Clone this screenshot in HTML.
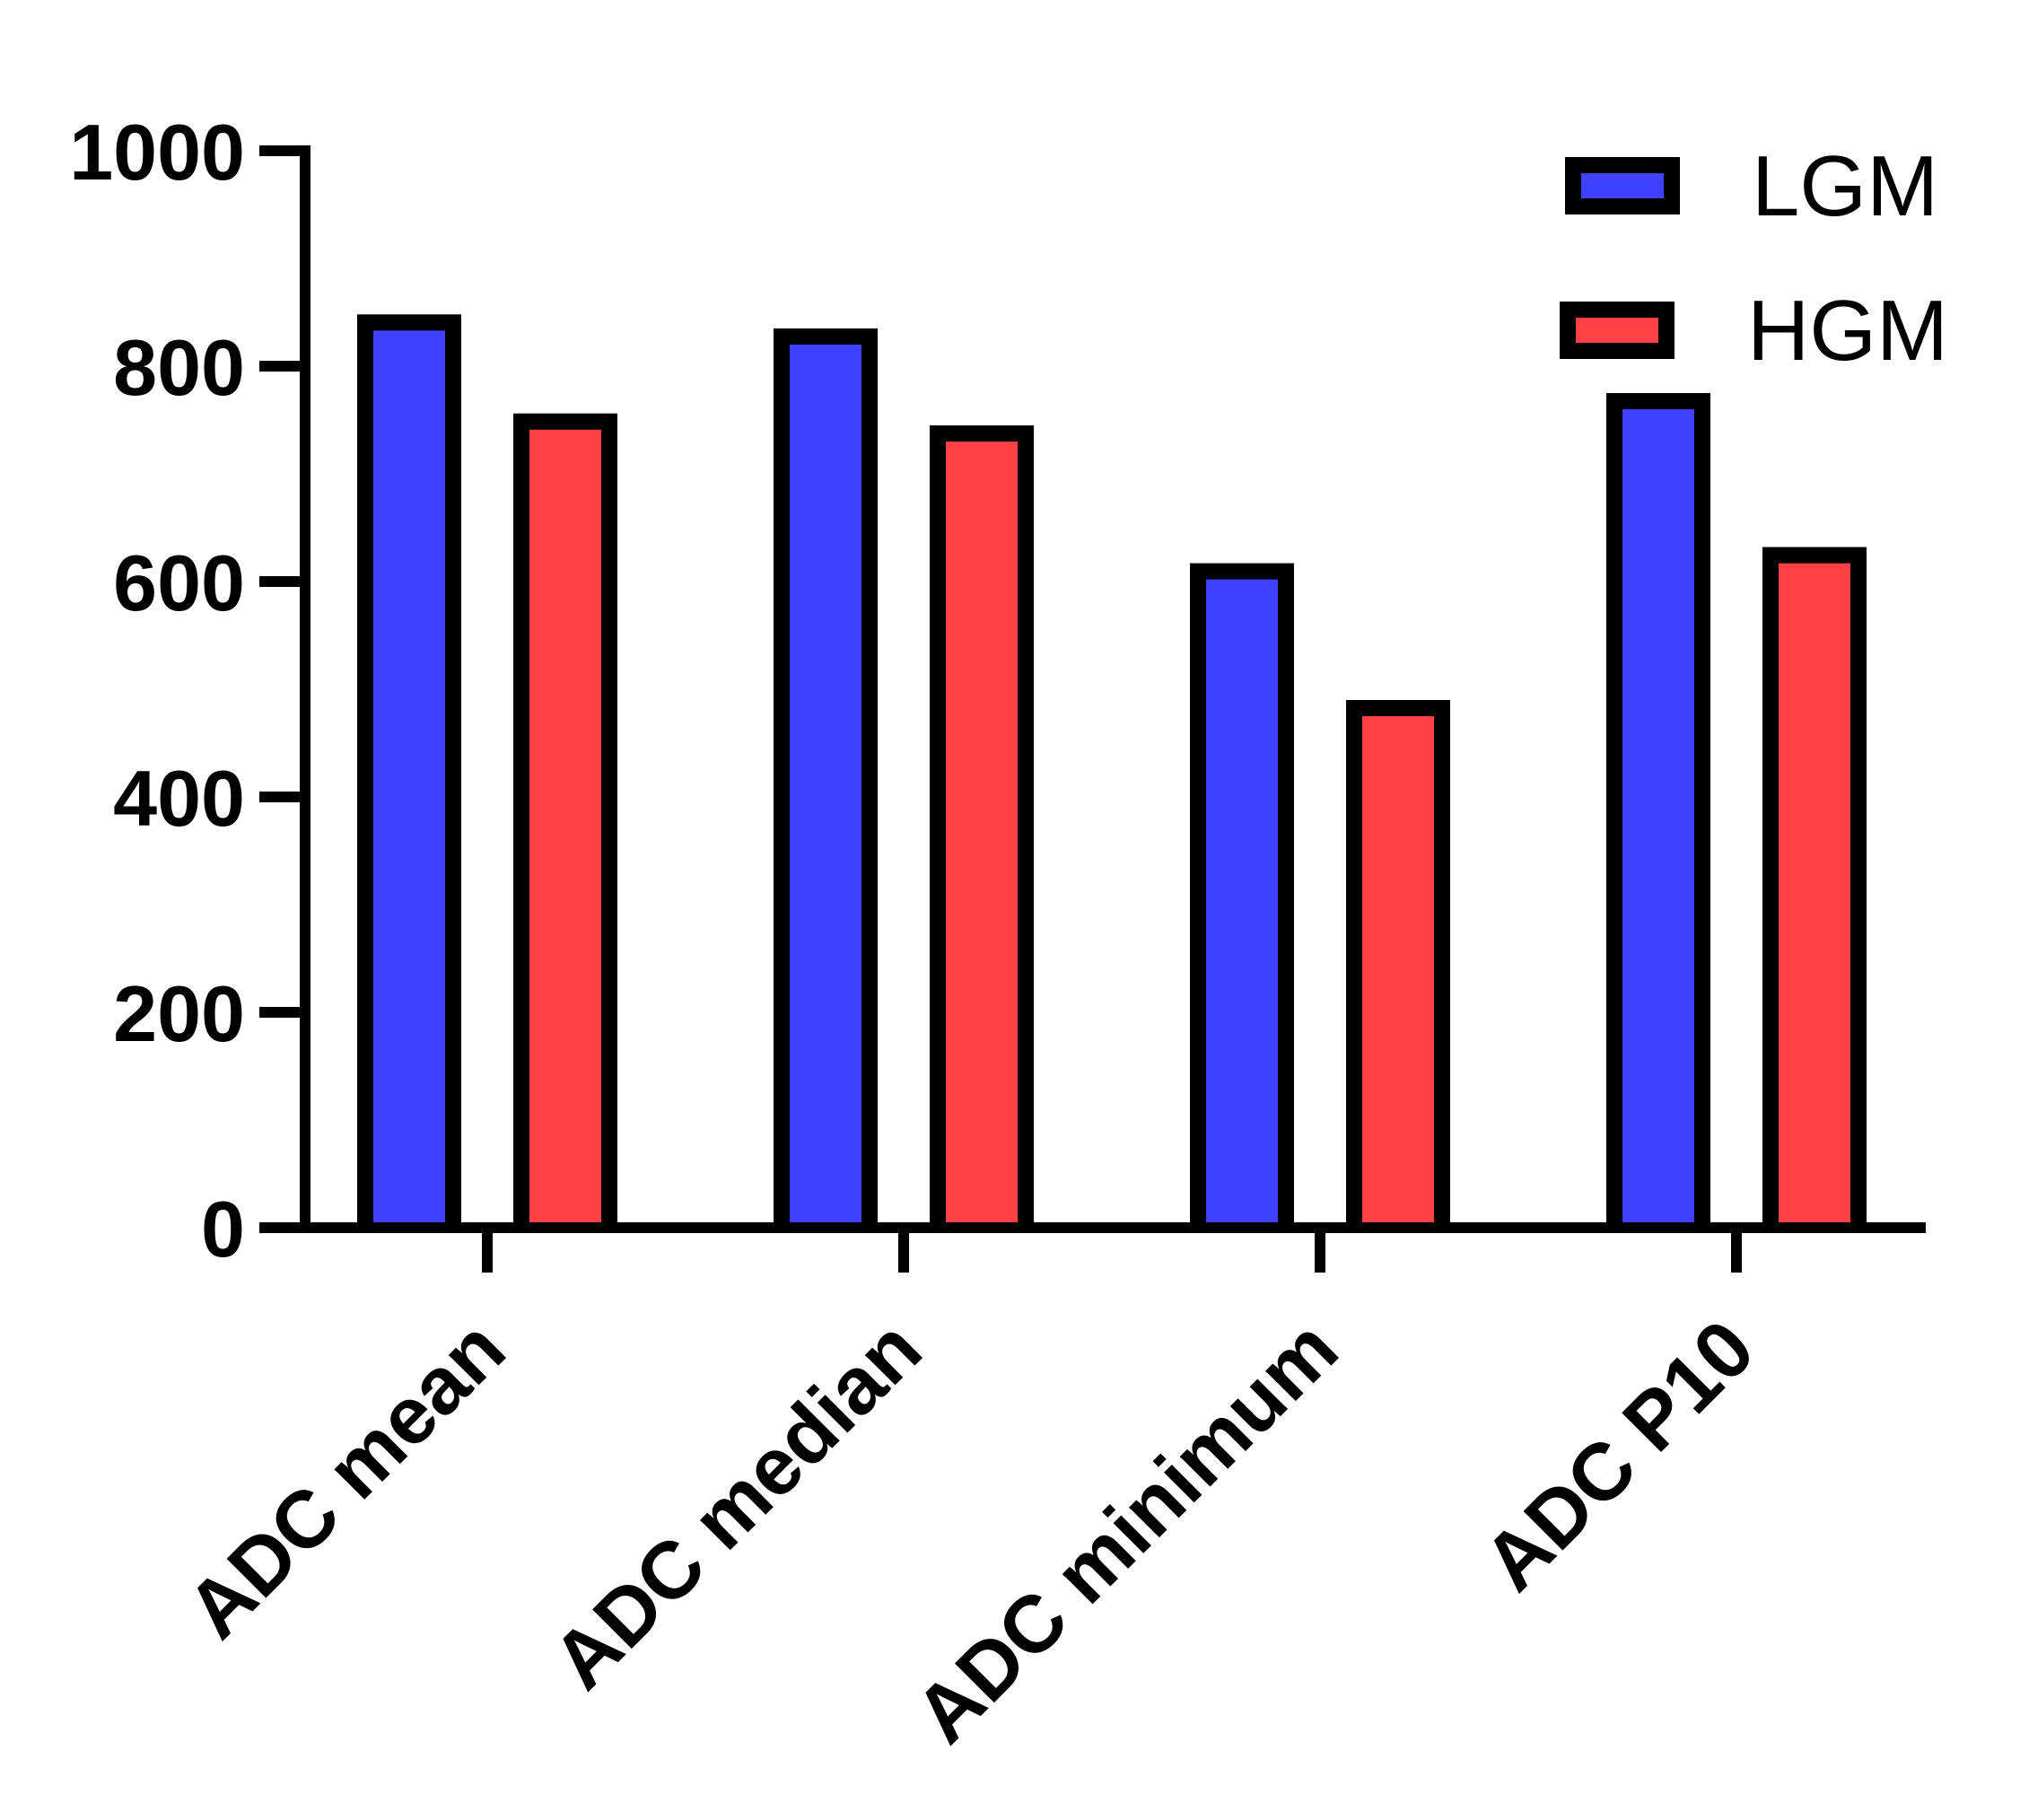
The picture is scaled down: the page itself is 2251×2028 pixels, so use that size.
<!DOCTYPE html>
<html><head><meta charset="utf-8"><style>
html,body{margin:0;padding:0;background:#fff}
svg{display:block}
text{font-family:"Liberation Sans",Arial,sans-serif}
</style></head><body>
<svg width="2251" height="2028" viewBox="0 0 2251 2028" id="chart"></svg>
<script>
const categories = ["ADC mean","ADC median","ADC minimum","ADC P10"];
const lgmValues = [848, 835, 617, 775];
const hgmValues = [756, 745, 490, 632];
const yTicks = [0, 200, 400, 600, 800, 1000];
const seriesNames = ["LGM", "HGM"];

const NS = "http://www.w3.org/2000/svg";
const svg = document.getElementById('chart');
const y0 = 1368, yPerUnit = 1.2;
function yScale(v){ return y0 - v*yPerUnit; }
const firstTick = 543, groupStep = 464;
function xScale(i){ return firstTick + i*groupStep; }
function mk(tag, attrs, parent){ const e=document.createElementNS(NS,tag); for(const k in attrs) e.setAttribute(k,attrs[k]); (parent||svg).appendChild(e); return e; }

const barW = 116, border = 18;
function drawBar(i, v, dx, fill, name){
  const left = xScale(i)+dx;
  const top = yScale(v);
  const g = mk('g',{});
  
  
  mk('rect',{x:left,y:top,width:barW,height:y0-top,fill:fill},g);
  const h = border/2;
  mk('path',{d:`M${left+h},${y0} L${left+h},${top+h} L${left+barW-h},${top+h} L${left+barW-h},${y0}`,fill:'none',stroke:'#000','stroke-width':border,'stroke-linejoin':'miter'},g);
}
categories.forEach((c,i)=>{
  drawBar(i, lgmValues[i], -145, '#4040ff', 'bar-lgm-'+(i+1));
  drawBar(i, hgmValues[i], 29, '#ff4044', 'bar-hgm-'+(i+1));
});

const yAxis = mk('line',{x1:340,y1:162,x2:340,y2:1374,stroke:'#000','stroke-width':12});


yTicks.forEach(t=>{
  const y = yScale(t);
  const tl = mk('line',{x1:289,y1:y,x2:346,y2:y,stroke:'#000','stroke-width':12});
  
  
  const tx = mk('text',{x:273,y:y+32,'text-anchor':'end','font-size':88,'font-weight':'bold',fill:'#000'});
  tx.textContent = t;
  
  
});

const xAxis = mk('line',{x1:289,y1:y0,x2:2146,y2:y0,stroke:'#000','stroke-width':12});


categories.forEach((c,i)=>{
  const x = xScale(i);
  const tl = mk('line',{x1:x,y1:y0,x2:x,y2:1418,stroke:'#000','stroke-width':12});
  
  
  const lx = x+25, ly = 1509;
  const tx = mk('text',{x:lx,y:ly,'text-anchor':'end','font-size':90,'font-weight':'bold',fill:'#000',transform:`rotate(-45 ${lx} ${ly})`});
  tx.textContent = c;
  
  
});

const legendColors = ['#4040ff','#ff4044'];
const legendBoxes = [[1744,175],[1738,336]];
const legendText = [[1952,240],[1947,401]];
seriesNames.forEach((n,i)=>{
  const g = mk('g',{});
  
  
  mk('rect',{x:legendBoxes[i][0]+9,y:legendBoxes[i][1]+9,width:110,height:46,fill:legendColors[i],stroke:'#000','stroke-width':18},g);
  const t = mk('text',{x:legendText[i][0],y:legendText[i][1],'font-size':96,fill:'#000'},g);
  t.textContent = n;
});
</script>
</body></html>
